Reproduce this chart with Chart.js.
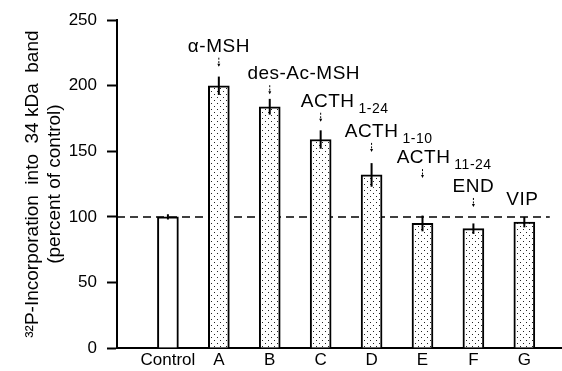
<!DOCTYPE html>
<html>
<head>
<meta charset="utf-8">
<script src="https://cdn.jsdelivr.net/npm/chart.js@4"></script>
<style>
  html, body { margin: 0; padding: 0; background: #fff; }
  #wrap { width: 562px; height: 371px; }
</style>
</head>
<body>
<div id="wrap"><canvas id="chart"></canvas></div>
<script>
// values
const categories = ['Control', 'A', 'B', 'C', 'D', 'E', 'F', 'G'];
const values = [100, 200, 184, 159, 132, 95, 91, 96];
const errors = [2, 7, 6, 7, 9, 6, 4, 4];
const peptides = ['', 'α-MSH', 'des-Ac-MSH', 'ACTH', 'ACTH', 'ACTH', 'END', 'VIP'];
const peptideSubs = ['', '', '', '1-24', '1-10', '11-24', '', ''];
const peptideLevels = [null, 226, 205, 184, 161, 141, 119, 109];
const yTicks = [0, 50, 100, 150, 200, 250];
const controlLevel = 100;

const FONT = '"Liberation Sans", Arial, sans-serif';
const peptideShift = [0, 0, 34, 7, 0, 1, 0, -2];
const peptideArrow = [false, true, true, true, true, true, true, false];

function makeStipple() {
  const c = document.createElement('canvas');
  c.width = 6; c.height = 6;
  const g = c.getContext('2d');
  g.fillStyle = '#fff';
  g.fillRect(0, 0, 6, 6);
  g.fillStyle = '#222';
  g.fillRect(1, 1, 1, 1);
  g.fillRect(4, 4, 1, 1);
  return g.createPattern(c, 'repeat');
}
const stipple = makeStipple();

// dashed control line goes behind the bars
const controlLine = {
  id: 'controlLine',
  beforeDatasetsDraw(chart) {
    const { ctx, scales: { x, y } } = chart;
    const py = y.getPixelForValue(controlLevel);
    ctx.save();
    ctx.strokeStyle = '#000';
    ctx.lineWidth = 1.5;
    ctx.setLineDash([8, 5]);
    ctx.beginPath();
    ctx.moveTo(x.left, py);
    ctx.lineTo(x.getPixelForValue(8.5), py);
    ctx.stroke();
    ctx.restore();
  }
};

const errorsAndLabels = {
  id: 'errorsAndLabels',
  afterDatasetsDraw(chart) {
    const { ctx, scales: { x, y } } = chart;
    ctx.save();
    values.forEach((v, i) => {
      const px = x.getPixelForValue(i + 1);
      ctx.strokeStyle = '#000';
      ctx.lineWidth = 2;
      ctx.setLineDash([]);
      ctx.beginPath();
      ctx.moveTo(px, y.getPixelForValue(v + errors[i]));
      ctx.lineTo(px, y.getPixelForValue(v - errors[i]));
      ctx.stroke();

      if (!peptides[i]) return;
      const base = y.getPixelForValue(peptideLevels[i]);
      ctx.font = '19px ' + FONT;
      ctx.letterSpacing = '0.5px';
      ctx.fillStyle = '#000';
      ctx.textBaseline = 'alphabetic';
      ctx.textAlign = 'center';
      const tx = px + peptideShift[i];
      ctx.fillText(peptides[i], tx, base);
      if (peptideSubs[i]) {
        const w = ctx.measureText(peptides[i]).width;
        ctx.font = '14px ' + FONT;
        ctx.textAlign = 'left';
        ctx.fillText(peptideSubs[i], tx + w / 2 + 4, base + 6);
      }
      ctx.letterSpacing = '0px';
      if (peptideArrow[i]) {
        ctx.lineWidth = 1;
        ctx.setLineDash([2, 1.5]);
        ctx.beginPath();
        ctx.moveTo(px, base + 6);
        ctx.lineTo(px, base + 14);
        ctx.stroke();
        ctx.setLineDash([]);
        ctx.beginPath();
        ctx.moveTo(px - 1.5, base + 12);
        ctx.lineTo(px, base + 15);
        ctx.lineTo(px + 1.5, base + 12);
        ctx.fill();
      }
    });
    ctx.restore();
  }
};

new Chart(document.getElementById('chart'), {
  type: 'bar',
  data: {
    datasets: [{
      data: values.map((v, i) => ({ x: i + 1, y: v })),
      backgroundColor: values.map((v, i) => (i === 0 ? '#fff' : stipple)),
      borderColor: '#000',
      borderWidth: 2,
      borderSkipped: 'bottom',
      barThickness: 21
    }]
  },
  options: {
    responsive: true,
    maintainAspectRatio: false,
    animation: false,
    layout: { padding: { left: 0, top: 16, right: 0, bottom: 0 } },
    plugins: {
      legend: { display: false },
      tooltip: { enabled: false }
    },
    scales: {
      x: {
        type: 'linear',
        offset: false,
        min: 0,
        max: 8.74,
        afterBuildTicks: (scale) => {
          scale.ticks = categories.map((c, i) => ({ value: i + 1 }));
        },
        afterFit: (scale) => {
          scale.height = 23;
          scale.paddingLeft = 0;
          scale.paddingRight = 0;
        },
        ticks: {
          autoSkip: false,
          maxRotation: 0,
          padding: 2,
          color: '#000',
          font: { family: FONT, size: 17 },
          callback: (v) => categories[v - 1] || ''
        },
        grid: { display: false, drawTicks: false, offset: false },
        border: { display: true, color: '#000', width: 2 }
      },
      y: {
        min: 0,
        max: 250,
        afterBuildTicks: (scale) => {
          scale.ticks = yTicks.map((t) => ({ value: t }));
        },
        afterFit: (scale) => { scale.width = 117; },
        ticks: {
          padding: 10,
          color: '#000',
          font: { family: FONT, size: 17 }
        },
        grid: { drawOnChartArea: false, drawTicks: true, tickLength: 10, color: '#000', tickWidth: 2 },
        border: { display: true, color: '#000', width: 2 },
        title: {
          display: true,
          text: ['³²P-Incorporation  into  34 kDa  band', '(percent of control)'],
          color: '#000',
          font: { family: FONT, size: 19 },
          padding: { top: 21, bottom: 0 }
        }
      }
    }
  },
  plugins: [controlLine, errorsAndLabels]
});
</script>
</body>
</html>
